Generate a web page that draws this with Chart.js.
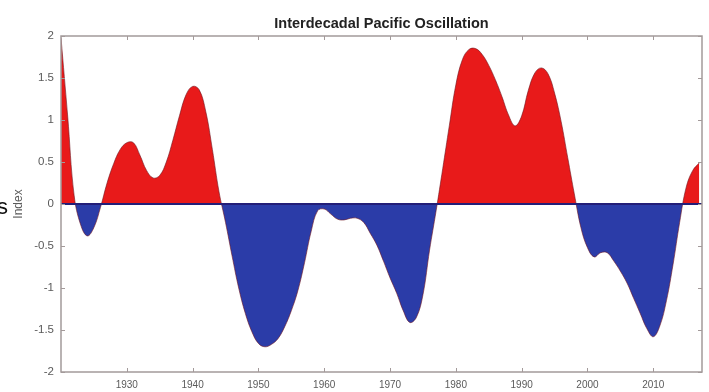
<!DOCTYPE html>
<html>
<head>
<meta charset="utf-8">
<script src="https://cdn.jsdelivr.net/npm/chart.js@4"></script>
<style>
  html, body { margin: 0; padding: 0; background: #fff; }
  #wrap { position: relative; width: 709px; height: 392px; overflow: hidden; }
  #stray { position: absolute; left: -3px; top: 196px; font: 22px/22px "Liberation Sans", Arial, sans-serif; color: #111; }
</style>
</head>
<body>
<div id="wrap">
  <canvas id="chart" width="709" height="392"></canvas>
  <div id="stray">s</div>
</div>
<script>
// Interdecadal Pacific Oscillation index (one value per year)
const TITLE = 'Interdecadal Pacific Oscillation';
const Y_TITLE = 'Index';

const YEARS = [
  1920, 1921, 1922, 1923, 1924, 1925, 1926, 1927, 1928, 1929,
  1930, 1931, 1932, 1933, 1934, 1935, 1936, 1937, 1938, 1939,
  1940, 1941, 1942, 1943, 1944, 1945, 1946, 1947, 1948, 1949,
  1950, 1951, 1952, 1953, 1954, 1955, 1956, 1957, 1958, 1959,
  1960, 1961, 1962, 1963, 1964, 1965, 1966, 1967, 1968, 1969,
  1970, 1971, 1972, 1973, 1974, 1975, 1976, 1977, 1978, 1979,
  1980, 1981, 1982, 1983, 1984, 1985, 1986, 1987, 1988, 1989,
  1990, 1991, 1992, 1993, 1994, 1995, 1996, 1997, 1998, 1999,
  2000, 2001, 2002, 2003, 2004, 2005, 2006, 2007, 2008, 2009,
  2010, 2011, 2012, 2013, 2014, 2015, 2016, 2017
];

const IPO = [
   1.98,  1.06,  0.10, -0.25, -0.38, -0.28, -0.04,  0.25,  0.48,  0.65,
   0.73,  0.73,  0.58,  0.40,  0.31,  0.34,  0.50,  0.76,  1.05,  1.30,
   1.40,  1.36,  1.10,  0.65,  0.15, -0.22, -0.62, -1.00, -1.30, -1.52,
  -1.66, -1.70, -1.67, -1.60, -1.46, -1.27, -1.03, -0.70, -0.33, -0.08,
  -0.06, -0.12, -0.18, -0.19, -0.17, -0.17, -0.22, -0.35, -0.49, -0.68,
  -0.88, -1.06, -1.27, -1.41, -1.35, -1.08, -0.55, -0.08,  0.42,  0.93,
   1.42,  1.72,  1.84,  1.85,  1.78,  1.65,  1.48,  1.28,  1.06,  0.93,
   1.05,  1.35,  1.56,  1.62,  1.55,  1.32,  0.98,  0.55,  0.12, -0.28,
  -0.52, -0.63, -0.58, -0.58, -0.68, -0.80, -0.94, -1.12, -1.30, -1.48,
  -1.58, -1.45, -1.15, -0.72, -0.22,  0.20,  0.40,  0.49
];

const X_TICKS = [1930, 1940, 1950, 1960, 1970, 1980, 1990, 2000, 2010];
const X_TICK_LABELS = ['1930', '1940', '1950', '1960', '1970', '1980', '1990', '2000', '2010'];

const RED  = '#e81a1a';
const BLUE = '#2b3ca8';
const EDGE = 'rgba(110, 20, 30, 0.75)';
const ZERO_LINE = '#231e78';
const BOX = '#a39a9a';
const LABEL = '#5a5a5a';

// ── Matlab-style box with inward ticks + zero line ─────────────────────────
const boxPlugin = {
  id: 'box',
  afterDatasetsDraw(chart) {
    const { ctx, chartArea: a, scales } = chart;
    const y0 = scales.y.getPixelForValue(0);
    ctx.save();
    ctx.strokeStyle = ZERO_LINE;
    ctx.lineWidth = 2;
    ctx.beginPath();
    ctx.moveTo(a.left, y0);
    ctx.lineTo(a.right, y0);
    ctx.stroke();

    ctx.strokeStyle = BOX;
    ctx.lineWidth = 1.5;
    ctx.strokeRect(a.left, a.top, a.right - a.left, a.bottom - a.top);

    ctx.lineWidth = 1;
    const len = 4;
    ctx.beginPath();
    scales.x.ticks.forEach(t => {
      const px = Math.round(scales.x.getPixelForValue(t.value)) + 0.5;
      ctx.moveTo(px, a.bottom); ctx.lineTo(px, a.bottom - len);
      ctx.moveTo(px, a.top);    ctx.lineTo(px, a.top + len);
    });
    scales.y.ticks.forEach(t => {
      const py = Math.round(scales.y.getPixelForValue(t.value)) + 0.5;
      ctx.moveTo(a.left, py);  ctx.lineTo(a.left + len, py);
      ctx.moveTo(a.right, py); ctx.lineTo(a.right - len, py);
    });
    ctx.stroke();
    ctx.restore();
  }
};

new Chart(document.getElementById('chart').getContext('2d'), {
  type: 'line',
  data: {
    datasets: [{
      data: YEARS.map((yr, i) => ({ x: yr, y: IPO[i] })),
      fill: { target: 'origin', above: RED, below: BLUE },
      borderWidth: 0.8,
      borderColor: EDGE,
      pointRadius: 0,
      tension: 0.4
    }]
  },
  options: {
    responsive: false,
    animation: false,
    devicePixelRatio: 1,
    layout: { padding: { left: 0, right: 7, top: 0, bottom: 0 } },
    plugins: {
      legend: { display: false },
      tooltip: { enabled: false },
      title: {
        display: true,
        fullSize: false,
        text: TITLE,
        color: '#222',
        font: { family: 'Liberation Sans', size: 14.5, weight: 'bold' },
        padding: { top: 15.3, bottom: 3.3 }
      }
    },
    scales: {
      x: {
        type: 'linear',
        min: 1920,
        max: 2017.4,
        afterBuildTicks: s => { s.ticks = X_TICKS.map(v => ({ value: v })); },
        afterFit: s => { s.height = 20; },
        ticks: {
          autoSkip: false,
          maxRotation: 0,
          padding: 7,
          color: LABEL,
          font: { family: 'Liberation Sans', size: 10 },
          callback: (v, i) => X_TICK_LABELS[i]
        },
        grid: { display: false, drawTicks: false },
        border: { display: false }
      },
      y: {
        min: -2,
        max: 2,
        afterFit: s => { s.width = 61; },
        ticks: {
          stepSize: 0.5,
          padding: 7,
          color: LABEL,
          font: { family: 'Liberation Sans', size: 11.5 },
          callback: v => String(v)
        },
        title: {
          display: true,
          text: Y_TITLE,
          color: LABEL,
          font: { family: 'Liberation Sans', size: 12 },
          padding: { top: 11, bottom: 0 }
        },
        grid: { display: false, drawTicks: false },
        border: { display: false }
      }
    }
  },
  plugins: [boxPlugin]
});
</script>
</body>
</html>
